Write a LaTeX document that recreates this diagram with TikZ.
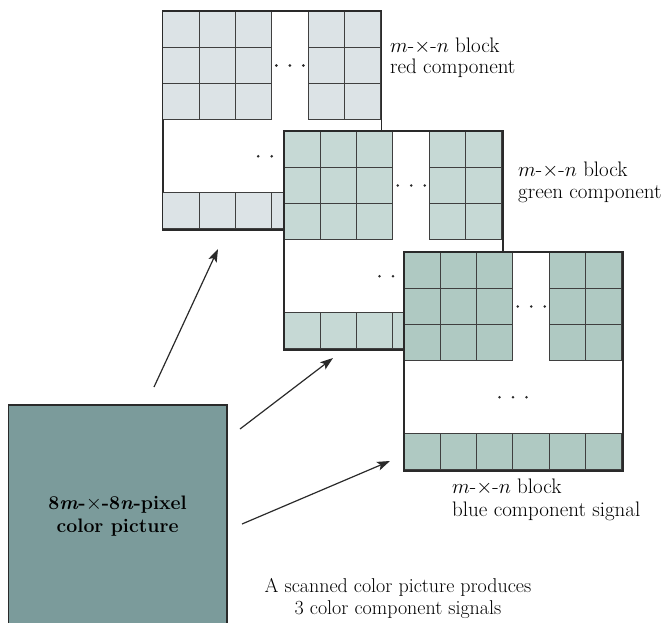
\documentclass[tikz,border=0pt]{standalone}
\usepackage{fontspec}
\usetikzlibrary{arrows.meta}
\definecolor{redc}{HTML}{DCE3E6}
\definecolor{greenc}{HTML}{C6D9D5}
\definecolor{bluec}{HTML}{AFC9C2}
\definecolor{picc}{HTML}{7B9B9B}
\definecolor{edgec}{HTML}{2A2A2A}
\tikzset{
  framebox/.style={draw=edgec, line width=1.1pt, fill=white, minimum size=218pt, inner sep=0pt, anchor=north west},
  cellbox/.style={draw=edgec!90, line width=1pt},
  lbl/.style={anchor=base west, inner sep=0pt, font=\rmfamily\fontsize{21}{23}\selectfont},
  captxt/.style={anchor=base, inner sep=0pt, font=\rmfamily\fontsize{20}{23}\selectfont},
  boldtxt/.style={anchor=base, inner sep=0pt, font=\rmfamily\fontsize{19.5}{23}\selectfont\bfseries},
  arr/.style={draw=edgec, line width=1.2pt, -{Stealth[length=13pt,width=9pt,inset=3pt]}},
}
\newcommand\mnblock[4]{%
  \begin{scope}[shift={(#2,#3)}]
    \node[framebox] (#1) at (0,0) {};
    \foreach \i in {0,1,2,4,5}
      \foreach \j in {0,1,2}
        \draw[cellbox, fill=#4] (\i*36.33,\j*36.33) rectangle ++(36.33,36.33);
    \foreach \i in {0,...,5}
      \draw[cellbox, fill=#4] (\i*36.33,5*36.33) rectangle ++(36.33,36.33);
    \draw[edgec, line width=1.1pt] (#1.north west) rectangle (#1.south east);
    \foreach \k in {-1,0,1} {
      \fill[edgec] (3.5*36.33+\k*13.5,1.5*36.33) circle (1.4pt);
      \fill[edgec] (3*36.33+\k*13.5,4*36.33) circle (1.4pt);
    }
  \end{scope}}
\begin{document}
\begin{tikzpicture}[x=1pt,y=-1pt]
\useasboundingbox (0,0) rectangle (666,622);
\clip (0,0) rectangle (666,622);
\mnblock{red}{162.7}{11}{redc}
\mnblock{green}{284}{131}{greenc}
\mnblock{blue}{404}{252}{bluec}
\node[lbl] (rl1) at (390,52) {$m$-$\times$-$n$ block};
\node[lbl] (rl2) at (390,73) {red component};
\node[lbl] (gl1) at (518,176) {$m$-$\times$-$n$ block};
\node[lbl] (gl2) at (518,198) {green component};
\node[lbl] (bl1) at (452,493) {$m$-$\times$-$n$ block};
\node[lbl] (bl2) at (452,516) {blue component signal};
\fill[picc] (8.3,405) rectangle (227,630);
\draw[edgec, line width=1.1pt] (8.3,630) -- (8.3,405) -- (227,405) -- (227,630);
\node[inner sep=0pt, minimum width=218pt, minimum height=225pt, anchor=north west] (pic) at (8.3,405) {};
\node[boldtxt] (pt1) at (117.6,509) {8\textit{m}-$\times$-8\textit{n}-pixel};
\node[boldtxt] (pt2) at (117.6,532) {color picture};
\node[captxt] (c1) at (398,592) {A scanned color picture produces};
\node[captxt] (c2) at (398,614) {3 color component signals};
\coordinate (a1s) at (154,387); \coordinate (a1e) at (218,249);
\coordinate (a2s) at (240,429); \coordinate (a2e) at (333,358);
\coordinate (a3s) at (242,524); \coordinate (a3e) at (390,461);
\draw[arr] (a1s) -- (a1e);
\draw[arr] (a2s) -- (a2e);
\draw[arr] (a3s) -- (a3e);
\end{tikzpicture}
\end{document}
